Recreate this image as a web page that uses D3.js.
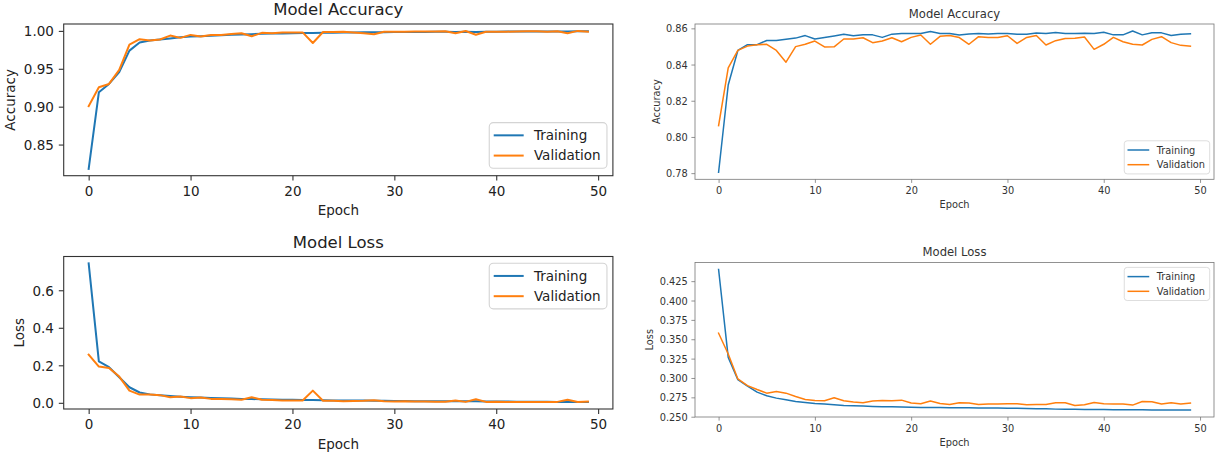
<!DOCTYPE html>
<html><head><meta charset="utf-8">
<script src="https://cdn.jsdelivr.net/npm/d3@7/dist/d3.min.js"></script>
<style>body{margin:0;background:#fff}svg{display:block}</style>
</head><body>
<svg id="chart" width="1229" height="464"></svg>
<script>
// ---- data ----
const seriesNames = ["Training", "Validation"];
const xTicks = [0, 10, 20, 30, 40, 50];

const accTrainL = [0.818,0.919,0.930,0.9455,0.974,0.9846,0.9873,0.9886,0.990,0.9916,
 0.9925,0.9930,0.9937,0.9942,0.9948,0.9953,0.9957,0.9961,0.9964,0.9967,
 0.9969,0.9971,0.9972,0.9975,0.9977,0.9978,0.9980,0.9981,0.9982,0.9983,
 0.9984,0.9985,0.9986,0.9987,0.9988,0.9988,0.9987,0.9989,0.9985,0.9990,
 0.9990,0.9991,0.9991,0.9992,0.9992,0.9993,0.9993,0.9993,0.9994,0.9994];
const accValL = [0.9006,0.9257,0.930,0.9485,0.982,0.989,0.9873,0.9886,0.9938,0.9908,
 0.9947,0.9925,0.9947,0.9947,0.996,0.9969,0.993,0.9974,0.997,0.9978,
 0.998,0.998,0.984,0.9985,0.9985,0.999,0.998,0.997,0.9955,0.9988,
 0.999,0.999,0.9992,0.9992,0.9993,0.9995,0.9968,0.9998,0.995,0.9988,
 0.999,0.999,0.9992,0.9994,0.9994,0.999,0.9995,0.997,1.0,0.999];
const lossTrainL = [0.743,0.221,0.190,0.136,0.083,0.055,0.045,0.040,0.036,0.033,
 0.030,0.028,0.026,0.024,0.023,0.021,0.020,0.019,0.018,0.017,
 0.016,0.015,0.015,0.014,0.013,0.013,0.012,0.012,0.011,0.011,
 0.010,0.010,0.009,0.009,0.009,0.008,0.008,0.008,0.009,0.007,
 0.007,0.007,0.006,0.006,0.006,0.006,0.005,0.005,0.005,0.005];
const lossValL = [0.257,0.193,0.186,0.140,0.065,0.044,0.044,0.041,0.030,0.034,
 0.025,0.028,0.021,0.021,0.019,0.016,0.030,0.016,0.015,0.013,
 0.012,0.012,0.065,0.011,0.011,0.009,0.010,0.011,0.014,0.009,
 0.007,0.008,0.007,0.007,0.006,0.006,0.012,0.005,0.019,0.005,
 0.006,0.005,0.004,0.004,0.005,0.005,0.005,0.016,0.004,0.007];

const accTrainR = [0.7805,0.8287,0.8478,0.8510,0.8510,0.8533,0.8533,0.8540,0.8546,0.8560,
 0.8541,0.8549,0.8558,0.8567,0.8559,0.8564,0.8564,0.8550,0.8568,0.8571,
 0.8571,0.8571,0.8582,0.8572,0.8571,0.8563,0.8569,0.8571,0.8569,0.8571,
 0.8571,0.8567,0.8567,0.8574,0.8571,0.8577,0.8572,0.8571,0.8573,0.8571,
 0.8578,0.8564,0.8564,0.8585,0.8564,0.8576,0.8575,0.8561,0.8568,0.8570];
const accValR = [0.8062,0.8381,0.8478,0.8502,0.8510,0.8512,0.8478,0.8413,0.8499,0.8512,
 0.8530,0.8497,0.8498,0.8541,0.8541,0.8548,0.8521,0.8530,0.8548,0.8526,
 0.8550,0.8563,0.8512,0.8556,0.8561,0.8549,0.8512,0.8554,0.8549,0.8549,
 0.8559,0.8517,0.8550,0.8560,0.8508,0.8532,0.8544,0.8545,0.8552,0.8484,
 0.8512,0.8550,0.8526,0.8512,0.8508,0.8539,0.8554,0.8521,0.8506,0.8502];
const lossTrainR = [0.4400,0.3266,0.2979,0.2894,0.2817,0.2770,0.2740,0.2718,0.2697,0.2684,
 0.2671,0.2663,0.2654,0.2646,0.2641,0.2637,0.2633,0.2630,0.2628,0.2624,
 0.2622,0.2620,0.2619,0.2618,0.2617,0.2616,0.2615,0.2614,0.2613,0.2612,
 0.2610,0.2608,0.2606,0.2604,0.2602,0.2598,0.2596,0.2595,0.2594,0.2593,
 0.2592,0.2591,0.2590,0.2590,0.2589,0.2588,0.2588,0.2587,0.2587,0.2587];
const lossValR = [0.3578,0.3309,0.2988,0.2902,0.2851,0.2804,0.2825,0.2804,0.2761,0.2723,
 0.2710,0.2706,0.2744,0.2706,0.2689,0.2680,0.2702,0.2710,0.2706,0.2714,
 0.2676,0.2667,0.2702,0.2671,0.2659,0.2680,0.2676,0.2659,0.2663,0.2663,
 0.2667,0.2667,0.2654,0.2659,0.2659,0.2680,0.2680,0.2646,0.2654,0.2684,
 0.2667,0.2663,0.2663,0.2650,0.2697,0.2693,0.2663,0.2680,0.2663,0.2676];

const accTicksL = [0.85, 0.90, 0.95, 1.00];
const lossTicksL = [0.0, 0.2, 0.4, 0.6];
const accTicksR = [0.78, 0.80, 0.82, 0.84, 0.86];
const lossTicksR = [0.250, 0.275, 0.300, 0.325, 0.350, 0.375, 0.400, 0.425];

const colors = ["#1f77b4", "#ff7f0e"];

// ---- drawing ----
const svg = d3.select("#chart");
const FONT = "'DejaVu Sans', sans-serif";

const styleL = {fs:13.5, tfs:16.5, lw:2.0, fw:1.1, tick:4.9, pad:4.9, frame:"#333", text:"#222", k:1};
const styleR = {fs:9.8, tfs:11.6, lw:1.5, fw:0.8, tick:3.6, pad:3.6, frame:"#777", text:"#333", k:0.73};

function panel(cfg) {
  const st = cfg.style, k = st.k;
  const g = svg.append("g");
  const n = cfg.series[0].length;
  const x = d3.scaleLinear().domain([-(n-1)*0.05, (n-1)*1.05]).range([cfg.l, cfg.r]);
  const all = cfg.series.flat();
  const [mn, mx] = d3.extent(all);
  const m = (mx - mn) * 0.05;
  const y = d3.scaleLinear().domain([mn - m, mx + m]).range([cfg.b, cfg.t]);

  // lines
  const line = d3.line().x((d, i) => x(i)).y(d => y(d));
  cfg.series.forEach((s, i) => {
    g.append("path").datum(s).attr("d", line).attr("fill", "none")
      .attr("stroke", colors[i]).attr("stroke-width", st.lw)
      .attr("stroke-linejoin", "round").attr("stroke-linecap", "square");
  });

  // axes
  const xa = g.append("g").attr("transform", `translate(0,${cfg.b})`)
    .call(d3.axisBottom(x).tickValues(xTicks).tickFormat(d3.format("d"))
      .tickSize(st.tick).tickPadding(st.pad));
  const ya = g.append("g").attr("transform", `translate(${cfg.l},0)`)
    .call(d3.axisLeft(y).tickValues(cfg.yTicks).tickFormat(d3.format(cfg.fmt))
      .tickSize(st.tick).tickPadding(st.pad));
  [xa, ya].forEach(a => {
    a.select(".domain").remove();
    a.selectAll("line").attr("stroke", st.frame).attr("stroke-width", st.fw);
    a.selectAll("text").attr("font-family", FONT).attr("font-size", st.fs).attr("fill", st.text);
  });
  xa.selectAll("text").attr("dy", null).attr("y", st.tick + st.pad + st.fs * 0.76);
  ya.selectAll("text").attr("dy", "0.36em");

  // frame
  g.append("rect").attr("x", cfg.l).attr("y", cfg.t)
    .attr("width", cfg.r - cfg.l).attr("height", cfg.b - cfg.t)
    .attr("fill", "none").attr("stroke", st.frame).attr("stroke-width", st.fw);

  // title
  g.append("text").attr("x", (cfg.l + cfg.r) / 2).attr("y", cfg.t - 8.6 * k)
    .attr("text-anchor", "middle").attr("font-family", FONT).attr("font-size", st.tfs)
    .attr("fill", st.text).text(cfg.title);
  // x label
  g.append("text").attr("x", (cfg.l + cfg.r) / 2).attr("y", cfg.b + 39.5 * k)
    .attr("text-anchor", "middle").attr("font-family", FONT).attr("font-size", st.fs)
    .attr("fill", st.text).text("Epoch");
  // y label
  let minLeft = Infinity;
  ya.selectAll("text").each(function() { const bb = this.getBBox(); minLeft = Math.min(minLeft, cfg.l + bb.x); });
  const yl = minLeft - 8.7 * k;
  g.append("text").attr("transform", `translate(${yl},${(cfg.t + cfg.b) / 2}) rotate(-90)`)
    .attr("text-anchor", "middle").attr("font-family", FONT).attr("font-size", st.fs)
    .attr("fill", st.text).text(cfg.ylabel);

  // legend
  const fs = st.fs;
  const lg = g.append("g");
  const texts = seriesNames.map((nm, i) => lg.append("text").attr("font-family", FONT)
    .attr("font-size", fs).attr("fill", st.text).text(nm));
  const tw = d3.max(texts, t => t.node().getComputedTextLength());
  const padL = 0.33 * fs, hl = 2.22 * fs, tp = 0.76 * fs, padR = 0.47 * fs;
  const bw = padL + hl + tp + tw + padR;
  const rowH = 1.5 * fs;
  const bh = 3.38 * fs;
  const bx = cfg.r - 0.44 * fs - bw;
  const by = cfg.legend === "lower" ? cfg.b - 0.55 * fs - bh : cfg.t + 0.5 * fs;
  lg.insert("rect", "text").attr("x", bx).attr("y", by).attr("width", bw).attr("height", bh)
    .attr("rx", 0.3 * fs).attr("fill", "#fff").attr("fill-opacity", 0.85)
    .attr("stroke", "#d4d4d4").attr("stroke-width", st.fw);
  const y0 = by + (bh - rowH) / 2;
  seriesNames.forEach((nm, i) => {
    const cy = y0 + i * rowH;
    lg.append("line").attr("x1", bx + padL).attr("x2", bx + padL + hl)
      .attr("y1", cy).attr("y2", cy).attr("stroke", colors[i]).attr("stroke-width", st.lw);
    texts[i].attr("x", bx + padL + hl + tp).attr("y", cy).attr("dy", "0.36em");
  });
}

panel({l:63.7, r:612.9, t:24, b:175.7, series:[accTrainL, accValL], yTicks:accTicksL, fmt:".2f",
  title:"Model Accuracy", ylabel:"Accuracy", legend:"lower", style:styleL});
panel({l:63.7, r:612.9, t:256.5, b:409, series:[lossTrainL, lossValL], yTicks:lossTicksL, fmt:".1f",
  title:"Model Loss", ylabel:"Loss", legend:"upper", style:styleL});
panel({l:695, r:1214, t:24, b:179.3, series:[accTrainR, accValR], yTicks:accTicksR, fmt:".2f",
  title:"Model Accuracy", ylabel:"Accuracy", legend:"lower", style:styleR});
panel({l:695, r:1214, t:262.5, b:417, series:[lossTrainR, lossValR], yTicks:lossTicksR, fmt:".3f",
  title:"Model Loss", ylabel:"Loss", legend:"upper", style:styleR});
</script>
</body></html>
